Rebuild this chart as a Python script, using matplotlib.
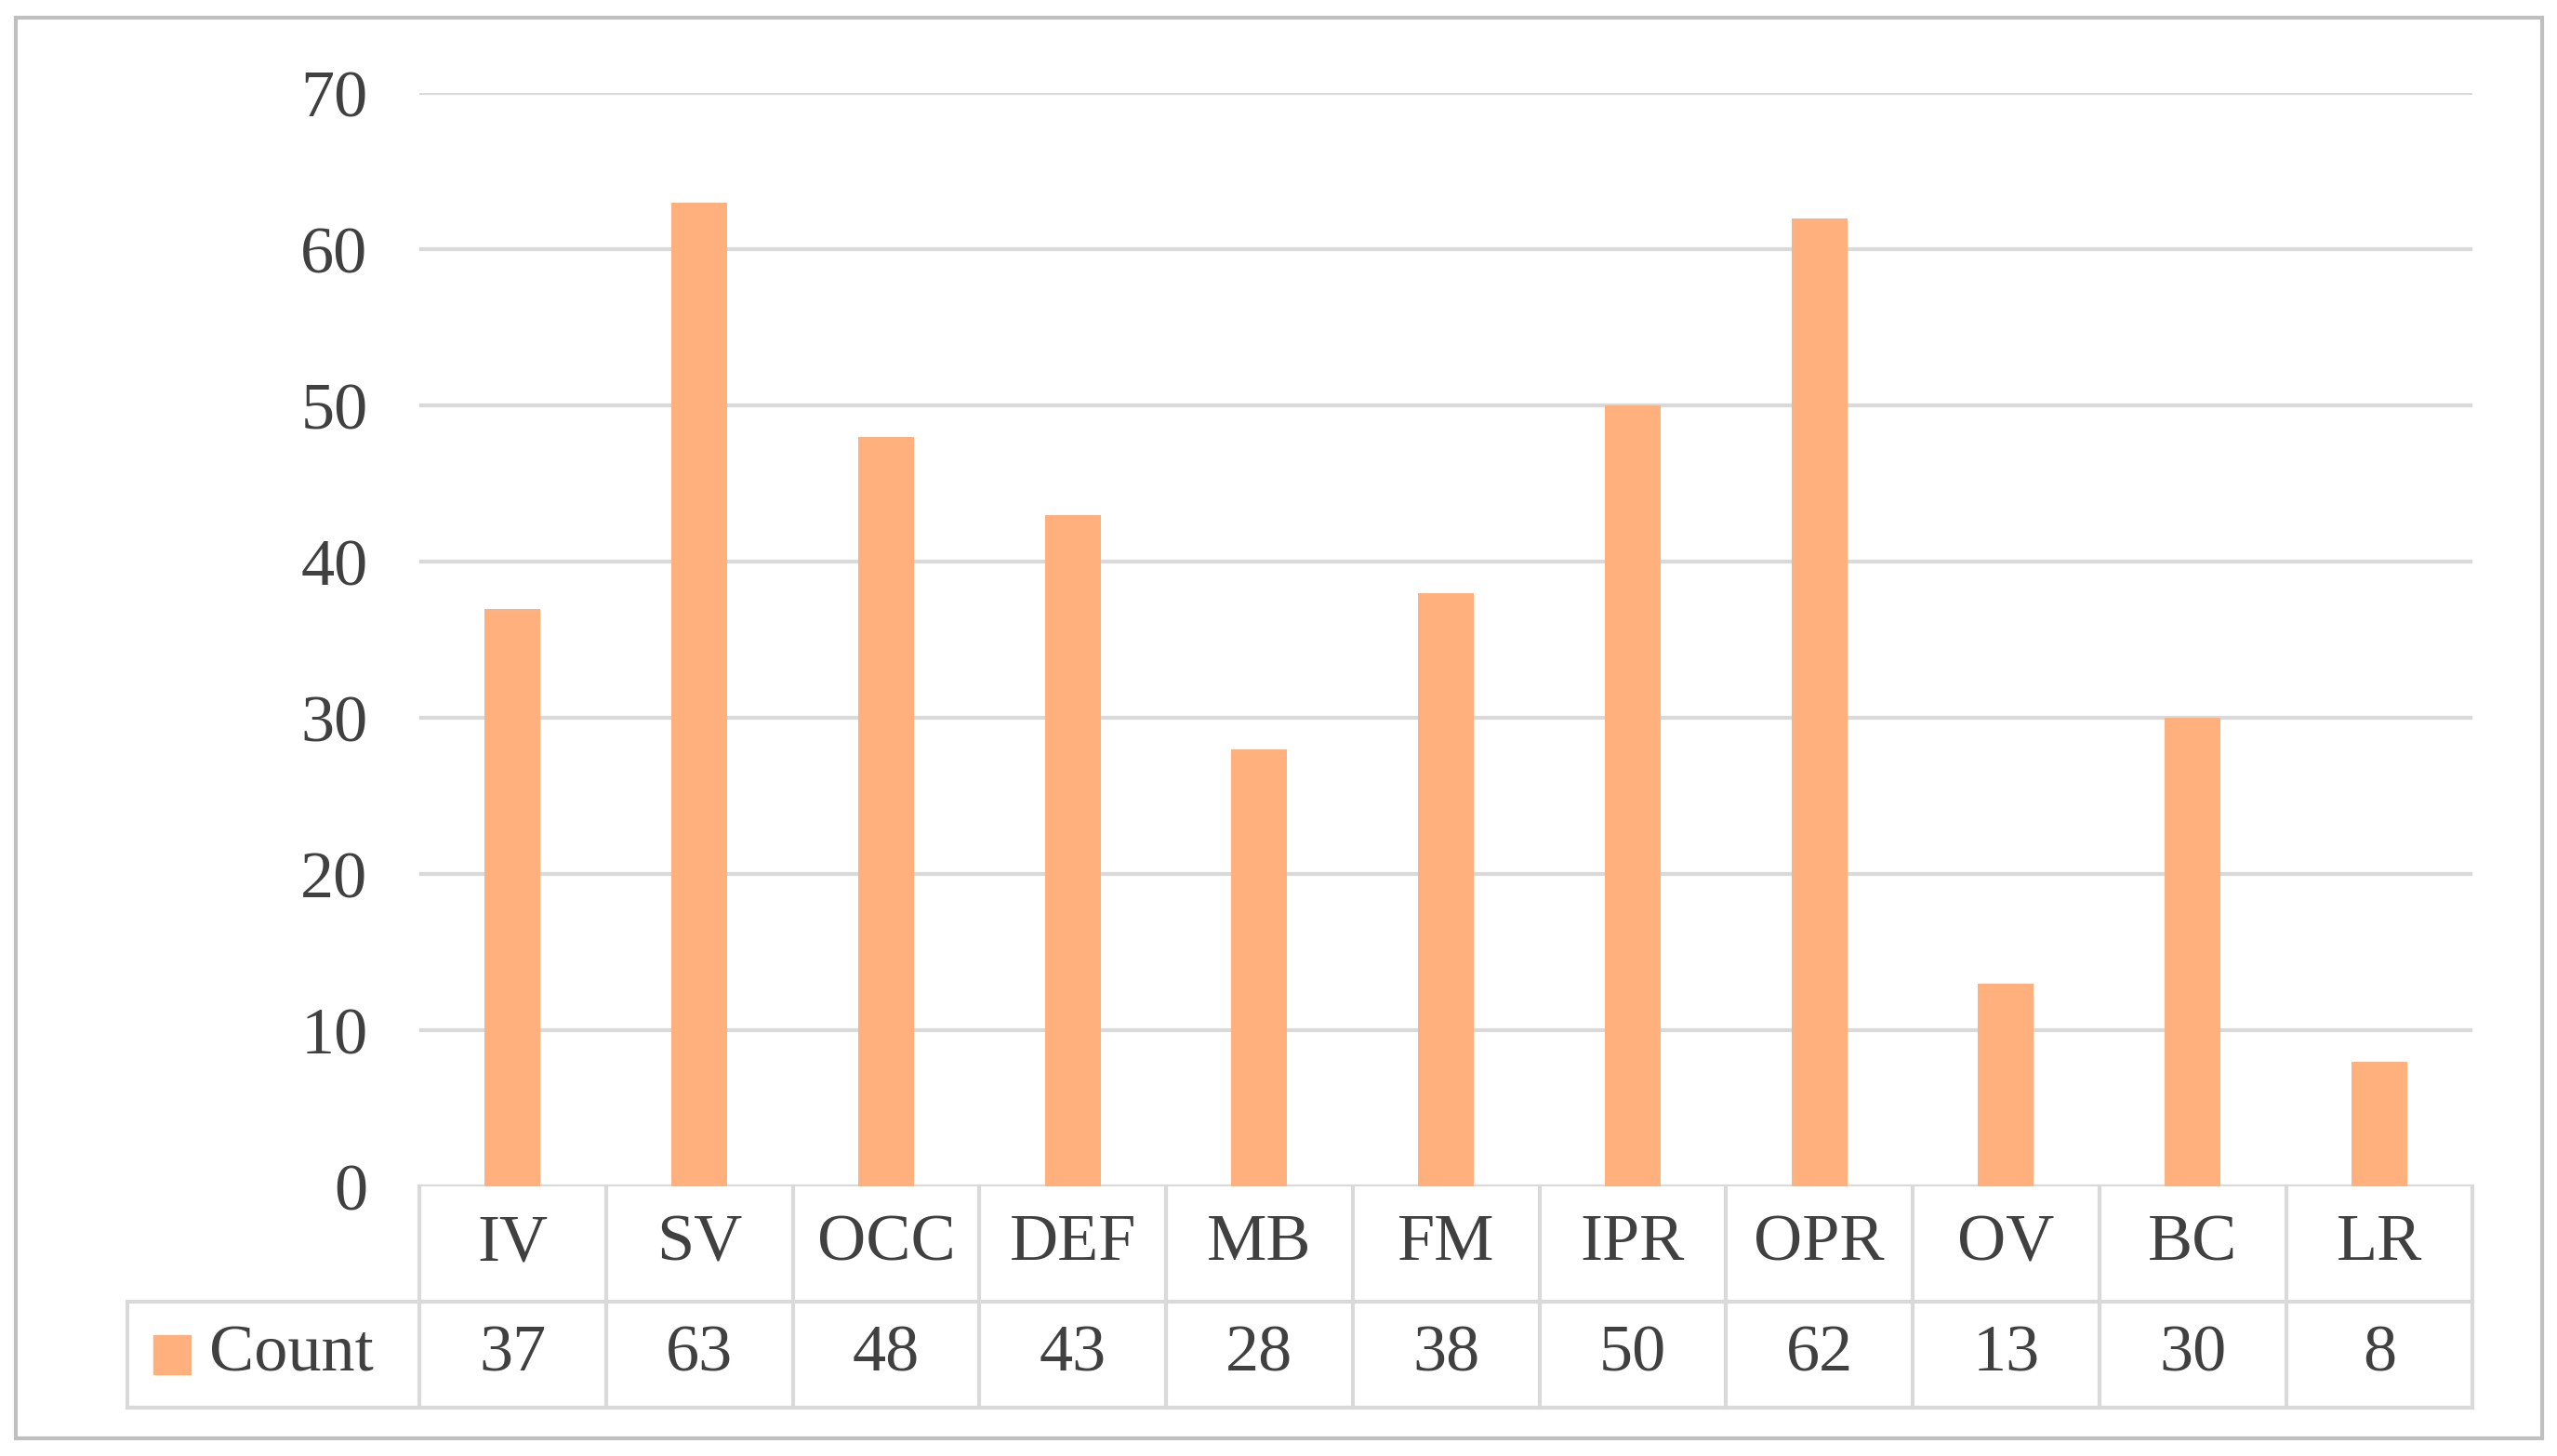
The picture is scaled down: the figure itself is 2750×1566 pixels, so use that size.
import matplotlib
matplotlib.use("Agg")
import matplotlib.pyplot as plt
from matplotlib.patches import Rectangle

categories = ["IV", "SV", "OCC", "DEF", "MB", "FM", "IPR", "OPR", "OV", "BC", "LR"]
counts = [37, 63, 48, 43, 28, 38, 50, 62, 13, 30, 8]
series_name = "Count"
yticks = [0, 10, 20, 30, 40, 50, 60, 70]

color = "#FFB07C"
grid = "#D9D9D9"
fs = 52
font = "Liberation Serif"

fig = plt.figure(figsize=(27.5, 15.66), dpi=100)
fig.patches.append(Rectangle((0.006, 0.012), 0.988, 0.976, transform=fig.transFigure,
                             fill=False, edgecolor="#BFBFBF", lw=3))
ax = fig.add_axes([0.164, 0.185, 0.803, 0.751])
n = len(categories)
x = [i + 0.5 for i in range(n)]
ax.bar(x, counts, width=0.3, color=color, zorder=3)
ax.set_xlim(0, n)
ax.set_ylim(0, 70)
ax.set_yticks(yticks)
ax.set_yticklabels([str(t) for t in yticks], fontsize=fs, family=font, color="#404040")
ax.tick_params(axis="y", length=0, pad=40)
ax.set_xticks([])
for t in yticks:
    ax.axhline(t, color=grid, lw=3, zorder=1)
for s in ax.spines.values():
    s.set_visible(False)

# data table below axes (axes coords)
h1 = 70 / 668
h2 = 65 / 668
lw = 3
kw = dict(transform=ax.transAxes, clip_on=False, color=grid, lw=lw)
ax.plot([0, 1], [-h1, -h1], **kw)
left = -179 / 1258
ax.plot([left, 1], [-h1 - h2, -h1 - h2], **kw)
ax.plot([left, 0], [-h1, -h1], **kw)
ax.plot([left, left], [-h1, -h1 - h2], **kw)
for i in range(n + 1):
    ax.plot([i / n, i / n], [0, -h1 - h2], **kw)
for i, (c, v) in enumerate(zip(categories, counts)):
    xc = (i + 0.5) / n
    ax.text(xc, -h1 / 2, c, transform=ax.transAxes, ha="center", va="center",
            fontsize=fs, family=font, color="#404040")
    ax.text(xc, -h1 - h2 / 2, str(v), transform=ax.transAxes, ha="center", va="center",
            fontsize=fs, family=font, color="#404040")
ax.add_patch(Rectangle((left + 0.013, -h1 - h2 / 2 - 0.018), 0.018, 0.036,
                       transform=ax.transAxes, clip_on=False, color=color))
ax.text(left + 0.04, -h1 - h2 / 2, series_name, transform=ax.transAxes, ha="left",
        va="center", fontsize=fs, family=font, color="#404040")

fig.savefig("out.png", dpi=100)
